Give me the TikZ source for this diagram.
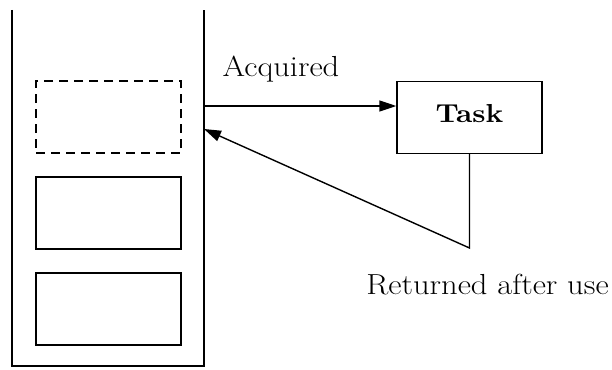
\documentclass[tikz,border=0pt]{standalone}
\usepackage{fontspec}
\setmainfont{Latin Modern Roman}[FakeStretch=1.12]
\newfontfamily\taskfont{lmroman10-bold.otf}[FakeStretch=1.12]
\usetikzlibrary{arrows.meta}
\begin{document}
\begin{tikzpicture}[x=1pt,y=-1pt,
  line width=1.4pt,
  slot/.style={draw,minimum width=145pt,minimum height=72pt,inner sep=0pt},
  lbl/.style={font=\fontsize{29}{34}\selectfont,inner sep=0pt,anchor=base},
  arr/.style={-{Triangle[length=17pt,width=11pt]}}]
\useasboundingbox (0,0) rectangle (612,369);
\coordinate (ctl) at (12,10);
\coordinate (cbl) at (12,366);
\coordinate (cbr) at (204,366);
\coordinate (ctr) at (204,10);
\draw (ctl) -- (cbl) -- (cbr) -- (ctr);
\node[slot,dashed,dash pattern=on 9pt off 6pt] (s1) at (108.5,117) {};
\node[slot] (s2) at (108.5,213) {};
\node[slot] (s3) at (108.5,309) {};
\node[slot,font=\taskfont\fontsize{26}{30}\selectfont,text height=18pt,text depth=8.4pt] (task) at (469.5,117.5) {Task};
\coordinate (aout) at (204,106);
\coordinate (ain) at (204,129);
\coordinate (corner) at (469.5,248);
\draw[arr] (aout) -- (aout -| task.west);
\draw[arr] (task.south) -- (corner) -- (ain);
\node[lbl] (acq) at (281,76) {Acquired};
\node[lbl] (ret) at (487.5,294) {Returned after use};
\end{tikzpicture}
\end{document}
